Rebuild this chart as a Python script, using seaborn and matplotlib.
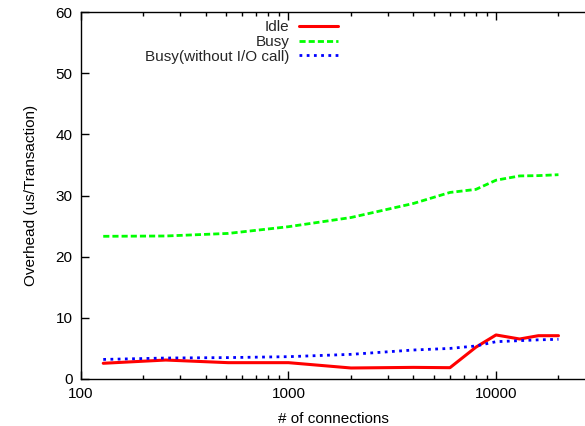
import numpy as np
import pandas as pd
import matplotlib
matplotlib.use("Agg")
import matplotlib.pyplot as plt
import seaborn as sns
from matplotlib.ticker import FixedLocator, FixedFormatter, LogLocator, NullFormatter

connections = [128, 256, 512, 1000, 2000, 4000, 6000, 8000, 10000, 13000, 16000, 20000]
idle = [2.57, 3.1, 2.67, 2.67, 1.8, 1.9, 1.85, 5.2, 7.2, 6.54, 7.08, 7.08]
busy = [23.33, 23.38, 23.8, 24.9, 26.4, 28.7, 30.5, 31.0, 32.5, 33.2, 33.25, 33.4]
busy_no_io = [3.2, 3.43, 3.5, 3.65, 4.03, 4.74, 5.0, 5.4, 6.1, 6.27, 6.4, 6.49]
series_names = ["Idle", "Busy", "Busy(without I/O call)"]

df = pd.DataFrame({
    "connections": connections * 3,
    "overhead": idle + busy + busy_no_io,
    "series": [series_names[0]] * len(idle) + [series_names[1]] * len(busy) + [series_names[2]] * len(busy_no_io),
})

sns.set_theme(style="white")
plt.rcParams['font.family'] = ['Liberation Sans', 'DejaVu Sans']

fig = plt.figure(figsize=(5.85, 4.26), dpi=100)
ax = fig.add_axes([81/585, 47/426, 1 - 81/585, (379 - 12)/426])

palette = {"Idle": "#ff0000", "Busy": "#00ff00", "Busy(without I/O call)": "#0000ff"}
sns.lineplot(data=df, x="connections", y="overhead", hue="series", palette=palette,
             ax=ax, legend=False)
lines = ax.get_lines()
styles = [dict(ls="-", lw=2.2), dict(ls=(0, (2.2, 1.1)), lw=2.0), dict(ls=(0, (1, 1.6)), lw=2.0)]
for ln, st in zip(lines, styles):
    ln.set_linestyle(st["ls"])
    ln.set_linewidth(st["lw"])

ax.set_xscale("log")
ax.set_xlim(100, 10 ** (4 + 89/207.5))
ax.set_ylim(0, 60)
ax.xaxis.set_major_locator(FixedLocator([100, 1000, 10000]))
ax.xaxis.set_major_formatter(FixedFormatter(["100", "1000", "10000"]))
ax.xaxis.set_minor_locator(LogLocator(base=10, subs=np.arange(2, 10)))
ax.xaxis.set_minor_formatter(NullFormatter())
ax.set_yticks([0, 10, 20, 30, 40, 50, 60])

for s in ["left", "bottom", "top"]:
    ax.spines[s].set_color("black")
    ax.spines[s].set_linewidth(1.0)
ax.spines["right"].set_visible(False)

ax.tick_params(axis="both", which="major", direction="in", length=6, width=1, color="black",
               labelsize=11, labelcolor="black", top=True, bottom=True, left=True, right=False, pad=6)
ax.tick_params(axis="x", which="minor", direction="in", length=3, width=1, color="black", top=True, bottom=True)

ax.set_xlabel("# of connections", fontsize=11, color="black", labelpad=8)
ax.set_ylabel("Overhead (us/Transaction)", fontsize=11, color="black", labelpad=13)

leg = ax.legend(lines, series_names, loc="upper left", bbox_to_anchor=(0.115, 0.994),
                frameon=False, markerfirst=False, fontsize=11, handlelength=2.6,
                labelspacing=0.05, handletextpad=0.6, borderaxespad=0)
for t in leg.get_texts():
    t.set_ha("right")
leg._legend_box.align = "right"

fig.savefig("out.png", dpi=100)
